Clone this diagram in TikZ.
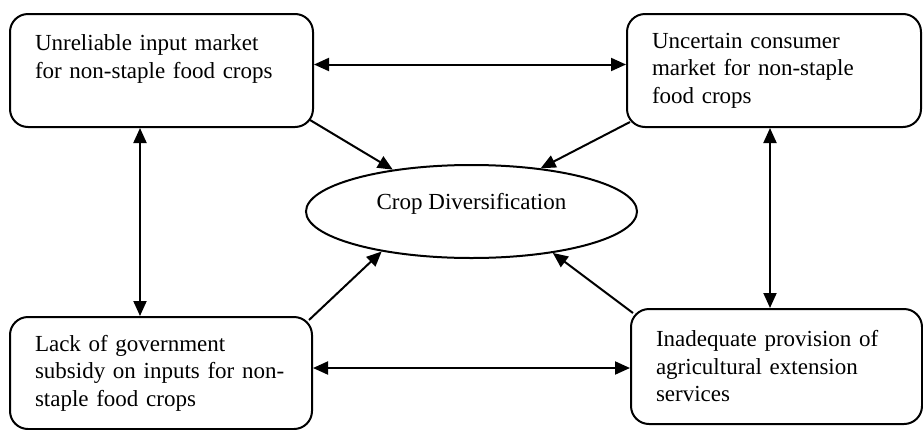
\documentclass[tikz,border=0pt]{standalone}
\usepackage{fontspec}
\setmainfont{Liberation Serif}
\usetikzlibrary{arrows.meta,shapes.geometric}

\begin{document}
\begin{tikzpicture}[
  x=1pt, y=-1pt,
  >={Triangle[length=15pt,width=13pt]},
  box/.style={draw, line width=2pt, rounded corners=18pt, anchor=north west,
              align=left, font=\fontsize{23}{27.5}\selectfont,
              inner xsep=25pt, inner ysep=0pt},
  oval/.style={draw, ellipse, line width=2pt, inner sep=0pt,
               minimum width=331pt, minimum height=93pt,
               font=\fontsize{23}{27.5}\selectfont},
  e/.style={->, line width=2pt},
  ee/.style={<->, line width=2pt}
]
\useasboundingbox (0,0) rectangle (923,429);

% top row
\node[box, text width=253pt, minimum height=113pt] (inp) at (9,13)
  {Unreliable input market\\ for non-staple food crops\\ \mbox{}};
\node[box, text width=244pt, minimum height=113pt] (con) at (626,13)
  {Uncertain consumer\\ market for non-staple\\ food crops};
% bottom row
\node[box, text width=252pt, minimum height=112pt] (sub) at (9,316)
  {Lack of government\\ \mbox{subsidy on inputs for non-}\\ staple food crops};
\node[box, text width=241pt, minimum height=115pt] (ext) at (630,308)
  {Inadequate provision of\\ agricultural extension\\ services};

% centre
\node[oval, text height=16pt, text depth=21pt] (crop) at (471.5,211.5)
  {Crop Diversification};

% two-way links round the frame
\draw[ee] ([yshift=6pt]inp.east) -- ([yshift=6pt]inp.east -| con.west);
\draw[ee] ([yshift=5pt]sub.east) -- ([yshift=5pt]sub.east -| ext.west);
\draw[ee] ([xshift=131pt]inp.south west) -- ([xshift=131pt]inp.south west |- sub.north);
\draw[ee] ([xshift=144pt]con.south west) -- ([xshift=144pt]con.south west |- ext.north);

% into the centre
\draw[e] ([xshift=-4pt,yshift=8pt]inp.south east) -- (crop.152);
\draw[e] ([xshift=4pt,yshift=6pt]con.south west) -- (crop.32);
\draw[e] ([xshift=-4pt,yshift=-4pt]sub.north east) -- (crop.204);
\draw[e] ([xshift=3pt,yshift=-5pt]ext.north west) -- (crop.333);
\end{tikzpicture}
\end{document}
